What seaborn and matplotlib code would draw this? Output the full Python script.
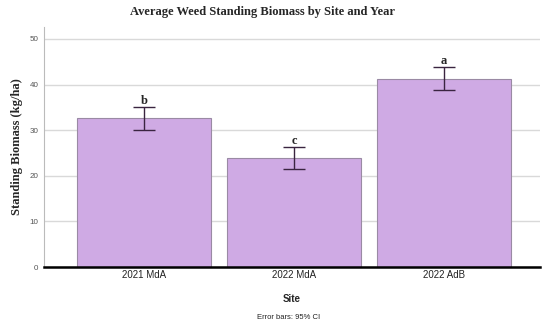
import matplotlib
matplotlib.use("Agg")
import matplotlib.pyplot as plt
import seaborn as sns
import numpy as np
import pandas as pd

sites = ["2021 MdA", "2022 MdA", "2022 AdB"]
means = [32.6, 23.8, 41.3]
ci_low = [30.0, 21.4, 38.9]
ci_high = [35.1, 26.3, 43.9]
letters = ["b", "c", "a"]

sns.set_theme(style="white")
plt.rcParams['font.family'] = ['Liberation Sans', 'DejaVu Sans']

fig = plt.figure(figsize=(5.5, 3.25), dpi=100)
ax = fig.add_axes([0.08, 0.178, 0.902, 0.739])

df = pd.DataFrame({"Site": sites, "Biomass": means})
sns.barplot(data=df, x="Site", y="Biomass", ax=ax, color="#CFAAE4",
            edgecolor="#9A8AA4", linewidth=0.8, width=0.893, saturation=1, zorder=2)

yerr = [np.array(means) - np.array(ci_low), np.array(ci_high) - np.array(means)]
ax.errorbar(x=sites, y=means, yerr=yerr, fmt="none", ecolor="#3A2440",
            elinewidth=1.0, capsize=8, capthick=1.0, zorder=3)

for s, hi, l in zip(sites, ci_high, letters):
    ax.annotate(l, xy=(s, hi), xytext=(0, 0), textcoords="offset points",
                ha="center", va="bottom", fontsize=9, fontweight="bold",
                family=["Liberation Serif", "DejaVu Serif"])

ax.set_ylim(0, 52.6)
ax.set_xlim(-0.667, 2.64)
ax.set_yticks([0, 10, 20, 30, 40, 50])
ax.yaxis.grid(True, color="#D9D9D9", linewidth=1.0, zorder=0)
ax.set_axisbelow(True)
for sp in ["top", "right"]:
    ax.spines[sp].set_visible(False)
ax.spines["left"].set_color("#BBBBBB")
ax.spines["left"].set_linewidth(0.8)
ax.spines["bottom"].set_color("black")
ax.spines["bottom"].set_linewidth(1.8)
ax.tick_params(axis="y", labelsize=5.8, labelcolor="#555555", length=0, pad=4)
ax.tick_params(axis="x", labelsize=7, labelcolor="#222222", length=0, pad=2)

ax.set_xlabel("Site", fontsize=7, fontweight="bold", labelpad=10)
ax.set_ylabel("Standing Biomass (kg/ha)", fontsize=9, fontweight="bold",
              family=["Liberation Serif", "DejaVu Serif"], labelpad=5)
fig.text(0.478, 0.963, "Average Weed Standing Biomass by Site and Year",
         ha="center", va="center", fontsize=9, fontweight="bold",
         family=["Liberation Serif", "DejaVu Serif"])
fig.text(0.525, 0.024, "Error bars: 95% CI", ha="center", va="center", fontsize=5.5,
         color="#222222")

fig.savefig("out.png", dpi=100)
